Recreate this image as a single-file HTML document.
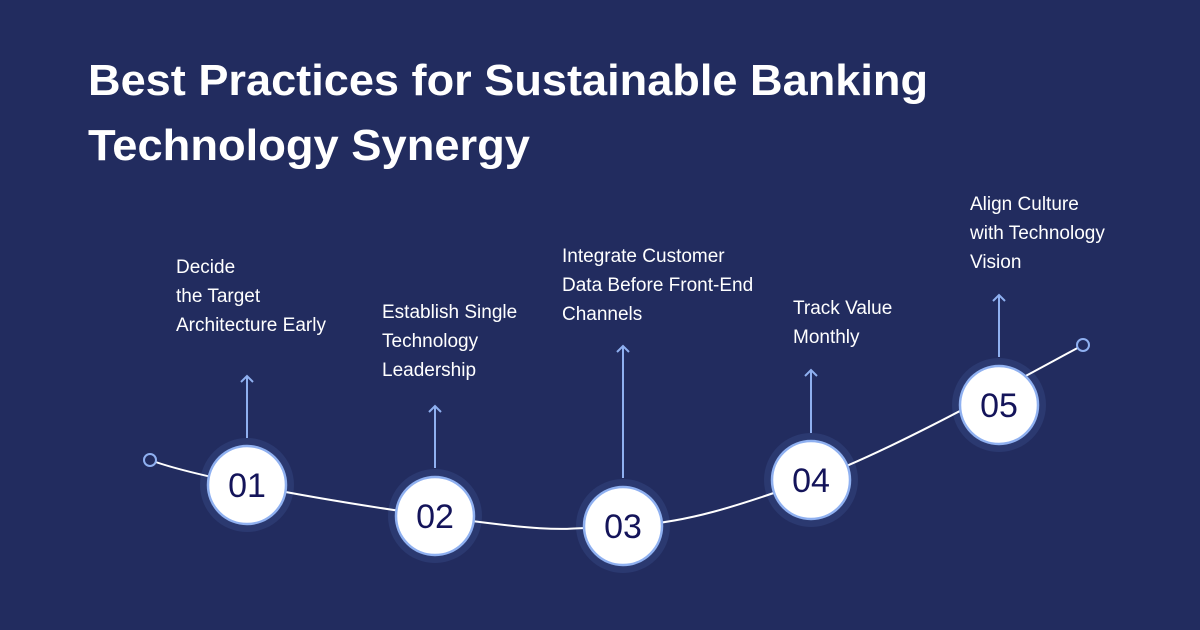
<!DOCTYPE html>
<html><head><meta charset="utf-8"><style>
html,body{margin:0;padding:0;background:#222c5f;}
svg{display:block;}
text{font-family:"Liberation Sans",sans-serif;}
</style></head><body>
<svg width="1200" height="630" viewBox="0 0 1200 630" xmlns="http://www.w3.org/2000/svg">
<rect width="1200" height="630" fill="#222c5f"/>
<text x="88" y="95" font-size="44" font-weight="bold" fill="#fff" textLength="840" lengthAdjust="spacingAndGlyphs">Best Practices for Sustainable Banking</text>
<text x="88" y="160" font-size="44" font-weight="bold" fill="#fff" textLength="442" lengthAdjust="spacingAndGlyphs">Technology Synergy</text>

<g fill="#2b3970">
<circle cx="247" cy="485" r="47"/>
<circle cx="435" cy="516" r="47"/>
<circle cx="623" cy="526" r="47"/>
<circle cx="811" cy="480" r="47"/>
<circle cx="999" cy="405" r="47"/>
</g>

<path d="M150 460 C190 475 300 497 435 516 S 560 528 623 526 S 740 505 811 480 S 1000 390 1083 345" fill="none" stroke="#fff" stroke-width="2"/>
<circle cx="150" cy="460" r="6" fill="#222c5f" stroke="#8fb0f0" stroke-width="2"/>
<circle cx="1083" cy="345" r="6" fill="#222c5f" stroke="#8fb0f0" stroke-width="2"/>

<g stroke="#8fb0f0" stroke-width="2" fill="none">
<path d="M247 438V376M241 382L247 376L253 382"/>
<path d="M435 468V406M429 412L435 406L441 412"/>
<path d="M623 478V346M617 352L623 346L629 352"/>
<path d="M811 433V370M805 376L811 370L817 376"/>
<path d="M999 357V295M993 301L999 295L1005 301"/>
</g>

<g font-size="34" fill="#14145a" text-anchor="middle">
<circle cx="247" cy="485" r="39" fill="#fff" stroke="#8fb0f0" stroke-width="2.5"/><text x="247" y="497">01</text>
<circle cx="435" cy="516" r="39" fill="#fff" stroke="#8fb0f0" stroke-width="2.5"/><text x="435" y="528">02</text>
<circle cx="623" cy="526" r="39" fill="#fff" stroke="#8fb0f0" stroke-width="2.5"/><text x="623" y="538">03</text>
<circle cx="811" cy="480" r="39" fill="#fff" stroke="#8fb0f0" stroke-width="2.5"/><text x="811" y="492">04</text>
<circle cx="999" cy="405" r="39" fill="#fff" stroke="#8fb0f0" stroke-width="2.5"/><text x="999" y="417">05</text>
</g>

<g font-size="19" fill="#fff">
<text x="176" y="273">Decide</text>
<text x="176" y="302">the Target</text>
<text x="176" y="331">Architecture Early</text>
<text x="382" y="318">Establish Single</text>
<text x="382" y="347">Technology</text>
<text x="382" y="376">Leadership</text>
<text x="562" y="262">Integrate Customer</text>
<text x="562" y="291">Data Before Front-End</text>
<text x="562" y="320">Channels</text>
<text x="793" y="314">Track Value</text>
<text x="793" y="343">Monthly</text>
<text x="970" y="210">Align Culture</text>
<text x="970" y="239">with Technology</text>
<text x="970" y="268">Vision</text>
</g>
</svg>
</body></html>
